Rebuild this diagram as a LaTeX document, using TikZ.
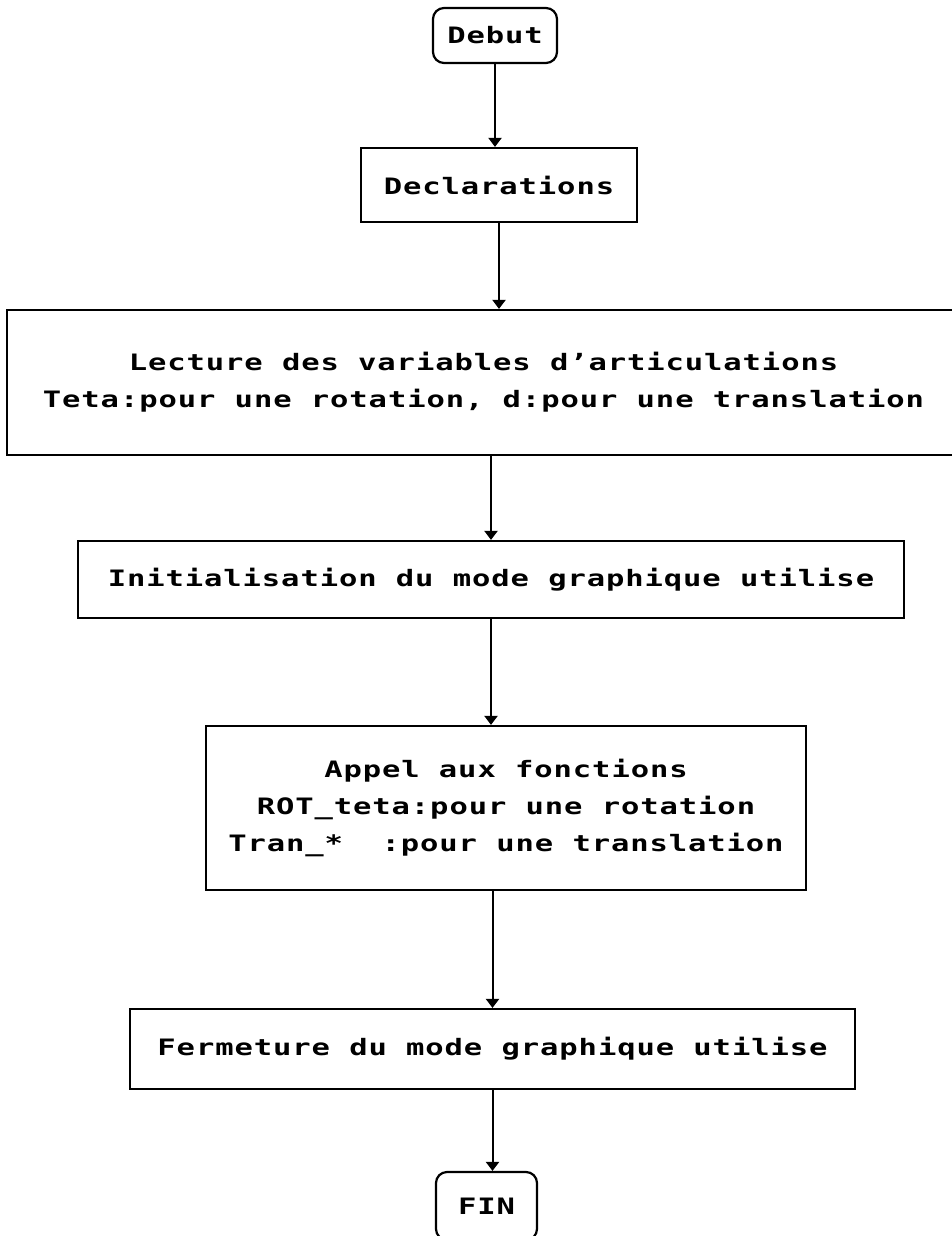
\documentclass[tikz,border=0pt]{standalone}
\usepackage{fontspec}
\newfontfamily\pixfont[FakeStretch=1.35,LetterSpace=4]{DejaVu Sans Mono}
\usetikzlibrary{arrows.meta}

\begin{document}
\begin{tikzpicture}[x=1pt,y=-1pt,
  box/.style={draw, line width=2.2pt, inner sep=0pt, align=center,
    font={\pixfont\bfseries\fontsize{22.6pt}{37pt}\selectfont}},
  term/.style={box, rounded corners=11pt},
  arr/.style={line width=2pt, -{Triangle[width=13pt,length=9pt]}}]

\useasboundingbox (0,0) rectangle (951,1236);

% process steps, top to bottom
\node[term, minimum width=124pt, minimum height=55pt] (deb) at (495,35.5) {Debut};
\node[box, minimum width=276pt, minimum height=74pt] (decl) at (499,185) {Declarations};
\node[box, minimum width=953pt, minimum height=145pt] (lect) at (483.5,382.5)
  {Lecture des variables d’articulations\\Teta:pour une rotation, d:pour une translation};
\node[box, minimum width=826pt, minimum height=77pt] (init) at (491,579.5)
  {Initialisation du mode graphique utilise};
\node[box, minimum width=600pt, minimum height=164pt] (appel) at (506,808)
  {Appel aux fonctions\\ROT\_teta:pour une rotation\\Tran\_*\ \ :pour une translation};
\node[box, minimum width=725pt, minimum height=80pt] (ferm) at (492.5,1049)
  {Fermeture du mode graphique utilise};
\node[term, minimum width=101pt, minimum height=68pt] (fin) at (486.5,1206) {FIN};

% flow arrows
\draw[arr] (deb.south) -- (decl.north -| deb.south);
\draw[arr] (decl.south) -- (lect.north -| decl.south);
\draw[arr] (lect.south -| init.north) -- (init.north);
\draw[arr] (init.south) -- (appel.north -| init.south);
\draw[arr] (appel.south -| ferm.north) -- (ferm.north);
\draw[arr] (ferm.south) -- (fin.north -| ferm.south);
\end{tikzpicture}
\end{document}
